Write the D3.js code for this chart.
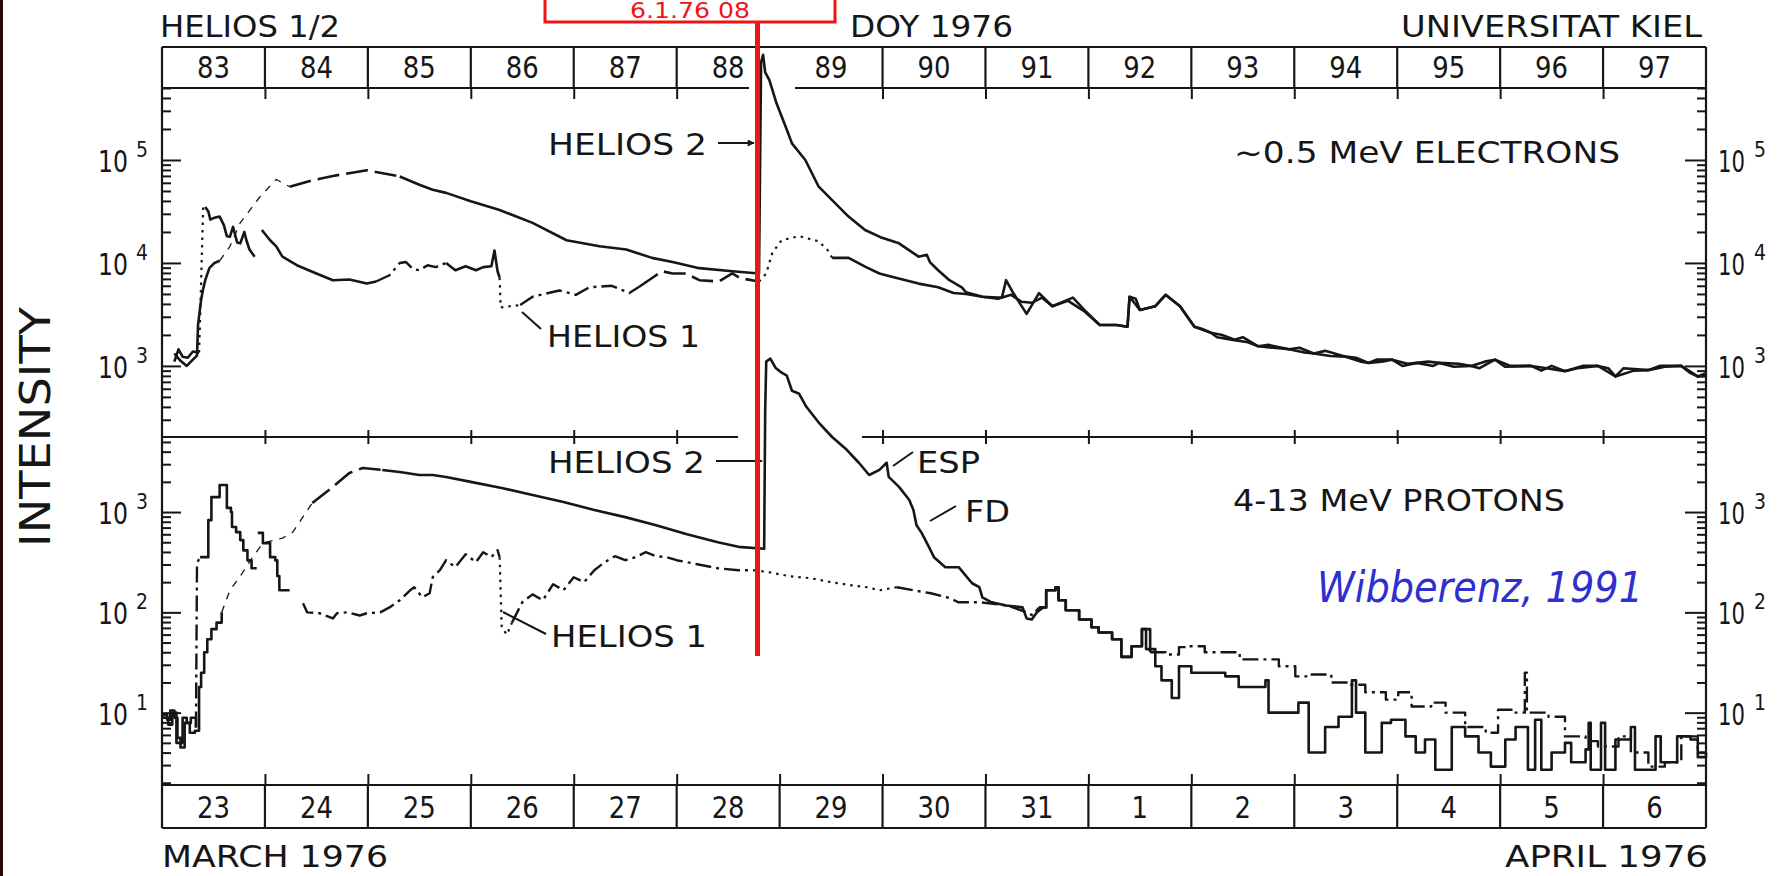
<!DOCTYPE html>
<html>
<head>
<meta charset="utf-8">
<script src="https://cdnjs.cloudflare.com/ajax/libs/d3/7.8.5/d3.min.js"></script>
<style>
  html, body { margin: 0; padding: 0; background: #fff; }
  svg { display: block; }
  text { font-family: "DejaVu Sans", "Liberation Sans", sans-serif; fill: #161616; }
</style>
</head>
<body>
<div id="container"></div>
<script>
"use strict";

const width = 1788;
const height = 876;

// day of year (top box) and calendar dates (bottom box)
const dayNumbers = [83, 84, 85, 86, 87, 88, 89, 90, 91, 92, 93, 94, 95, 96, 97];
const dateLabels = ["23", "24", "25", "26", "27", "28", "29", "30", "31", "1", "2", "3", "4", "5", "6"];
const electronDecades = [1e3, 1e4, 1e5];
const protonDecades = [1e1, 1e2, 1e3];
const electronExp = ["3", "4", "5"];
const protonExp = ["1", "2", "3"];

// ~0.5 MeV electrons, [DOY, intensity]
const electronsH1 = [
  [83.12, 1100], [83.16, 1450], [83.20, 1230], [83.25, 1200], [83.30, 1380], [83.36, 1350],
  [83.37, 2800], [83.40, 35000], [83.42, 35000], [83.45, 31600], [83.47, 26300], [83.51, 27500],
  [83.56, 28200], [83.60, 23400], [83.63, 18200], [83.66, 18000], [83.69, 22400], [83.73, 15800],
  [83.76, 15500], [83.80, 20000], [83.82, 16600], [83.85, 13500], [83.90, 11500],
  [83.97, 20900], [84.05, 16600], [84.11, 14500], [84.17, 11500], [84.31, 9500], [84.50, 7900],
  [84.66, 6800], [84.82, 6900], [84.99, 6300], [85.08, 6600], [85.21, 7600], [85.31, 10000],
  [85.37, 10200], [85.44, 8700], [85.50, 8500], [85.58, 9500], [85.66, 9100], [85.76, 10000],
  [85.85, 8500], [85.95, 9300], [86.05, 8500], [86.12, 9100], [86.20, 9300], [86.23, 13200],
  [86.26, 8300], [86.28, 7200], [86.29, 3700], [86.48, 3900], [86.60, 4700], [86.86, 5400],
  [87.02, 4900], [87.15, 5800], [87.37, 6000], [87.54, 5100], [87.64, 5900], [87.80, 7600],
  [87.86, 8300], [87.96, 7900], [88.09, 7900], [88.22, 6800], [88.41, 6600], [88.54, 7900],
  [88.62, 7100], [88.80, 6600], [88.87, 7900], [88.93, 12600], [89.02, 16600], [89.19, 18200],
  [89.38, 16200], [89.48, 12900], [89.51, 11200], [89.67, 11200], [89.84, 9100], [89.97, 7900],
  [90.08, 7400], [90.35, 6300], [90.54, 5800], [90.69, 5100], [90.81, 5000], [90.97, 4700],
  [91.12, 4500], [91.25, 4900], [91.35, 4200], [91.45, 4100], [91.55, 4600], [91.65, 3800],
  [91.80, 4300], [91.90, 3700], [91.96, 3400], [92.11, 2500], [92.27, 2500], [92.38, 2400],
  [92.40, 4700], [92.46, 4500], [92.50, 3500], [92.65, 3800], [92.75, 4900], [92.89, 3800],
  [93.03, 2400], [93.10, 2300], [93.19, 2100], [93.30, 2000], [93.42, 1800], [93.50, 1900],
  [93.65, 1550], [93.75, 1600], [93.95, 1450], [94.05, 1500], [94.19, 1320], [94.30, 1400],
  [94.50, 1230], [94.60, 1200], [94.72, 1070], [94.80, 1150], [94.95, 1150], [95.05, 1000],
  [95.19, 1070], [95.30, 1100], [95.41, 1070], [95.55, 980], [95.72, 1000], [95.85, 1100],
  [95.95, 1150], [96.05, 980], [96.30, 1000], [96.45, 950], [96.63, 890], [96.80, 1000],
  [96.95, 1000], [97.05, 950], [97.12, 790], [97.20, 950], [97.44, 910], [97.60, 980],
  [97.76, 1000], [97.85, 850], [97.92, 790], [98.00, 850]
];

const electronsH2 = [
  [83.12, 1320], [83.18, 1120], [83.24, 1000], [83.30, 1150], [83.34, 1260], [83.35, 2500],
  [83.38, 4400], [83.40, 5600], [83.42, 6800], [83.46, 8900], [83.51, 10000], [83.56, 10500],
  [83.66, 14500], [83.76, 24500], [83.95, 43700], [84.11, 64600], [84.24, 55000], [84.45, 63100],
  [84.66, 70000], [84.99, 79400], [85.31, 69200], [85.50, 57500], [85.63, 51300], [85.76, 47900],
  [86.00, 39800], [86.28, 32700], [86.60, 24500], [86.93, 16600], [87.25, 14500], [87.51, 13500],
  [87.76, 11200], [87.96, 10200], [88.22, 8900], [88.54, 8300], [88.80, 7900],
  [88.82, 890000], [88.84, 1050000], [88.86, 710000], [88.90, 600000], [88.97, 355000],
  [89.06, 209000], [89.12, 145000], [89.25, 100000], [89.38, 55000], [89.51, 40700],
  [89.67, 28200], [89.83, 20900], [89.98, 17800], [90.16, 15500], [90.35, 11500], [90.43, 12000],
  [90.46, 10200], [90.54, 8500], [90.65, 6800], [90.77, 5800], [90.81, 5200], [90.97, 4700],
  [91.12, 4600], [91.16, 4600], [91.20, 6800], [91.27, 5100], [91.40, 3200], [91.52, 5100],
  [91.65, 3800], [91.85, 4600], [91.96, 3500], [92.11, 2500], [92.27, 2500], [92.38, 2400],
  [92.40, 4700], [92.50, 3500], [92.65, 3800], [92.75, 4900], [92.89, 3800], [93.03, 2400],
  [93.19, 2100], [93.25, 1900], [93.42, 1780], [93.55, 1700], [93.65, 1550], [93.80, 1500],
  [93.95, 1450], [94.10, 1350], [94.19, 1320], [94.35, 1250], [94.50, 1230], [94.65, 1100],
  [94.72, 1070], [94.85, 1100], [94.95, 1150], [95.10, 1050], [95.19, 1070], [95.35, 1000],
  [95.41, 1070], [95.60, 1050], [95.72, 1000], [95.80, 950], [95.95, 1150], [96.10, 1000],
  [96.30, 1000], [96.40, 900], [96.50, 1000], [96.63, 890], [96.75, 950], [96.95, 1000],
  [97.12, 790], [97.30, 900], [97.44, 910], [97.55, 1000], [97.76, 1000], [97.92, 790], [98.00, 800]
];

// 4-13 MeV protons, [DOY, intensity]
const protonsH1 = [
  [83.00, 9.5], [83.05, 8.5], [83.08, 10.5], [83.12, 8.9], [83.15, 5.6], [83.18, 5.0], [83.20, 8.9],
  [83.24, 7.9], [83.28, 8.9], [83.33, 7.1], [83.34, 310], [83.37, 355], [83.43, 355], [83.45, 830],
  [83.48, 1410], [83.52, 1410], [83.56, 1860], [83.60, 1860], [83.63, 1100], [83.67, 1000],
  [83.68, 710], [83.72, 630], [83.76, 525], [83.79, 415], [83.83, 330], [83.87, 275], [83.92, 275],
  [83.93, 620], [83.98, 490], [84.05, 355], [84.10, 330], [84.12, 230], [84.14, 166], [84.24, 166],
  [84.37, 123], [84.41, 100], [84.53, 98], [84.66, 87], [84.70, 98], [84.80, 100], [84.92, 93],
  [84.99, 98], [85.12, 100], [85.21, 112], [85.31, 132], [85.41, 166], [85.45, 178], [85.53, 141],
  [85.60, 155], [85.63, 224], [85.70, 263], [85.76, 331], [85.85, 282], [85.95, 380], [86.05, 316],
  [86.12, 398], [86.20, 355], [86.26, 417], [86.28, 355], [86.30, 71], [86.35, 60], [86.40, 79],
  [86.50, 126], [86.60, 151], [86.70, 132], [86.80, 191], [86.90, 166], [87.00, 224], [87.10, 200],
  [87.20, 263], [87.30, 316], [87.40, 363], [87.50, 331], [87.60, 355], [87.70, 398], [87.80, 363],
  [87.90, 355], [88.00, 331], [88.20, 302], [88.40, 275], [88.60, 263], [88.75, 263], [88.90, 251],
  [89.10, 229], [89.30, 219], [89.50, 200], [89.70, 186], [89.85, 178], [89.97, 166], [90.14, 178],
  [90.30, 166], [90.47, 155], [90.63, 141], [90.74, 126], [90.95, 126], [91.21, 117], [91.40, 100],
  [91.46, 93], [91.52, 112], [91.59, 166], [91.68, 178], [91.71, 132], [91.78, 105], [91.91, 85],
  [92.03, 71], [92.10, 63], [92.23, 54], [92.32, 36], [92.42, 46], [92.52, 68], [92.60, 40],
  [92.75, 38], [92.88, 45], [92.97, 46], [93.13, 40], [93.33, 40], [93.47, 34], [93.63, 34],
  [93.85, 29], [94.01, 23], [94.17, 24], [94.36, 20], [94.53, 19], [94.69, 16], [94.89, 13.5],
  [95.01, 16], [95.14, 11.5], [95.33, 12.6], [95.47, 10], [95.66, 7.2], [95.86, 6.3], [95.98, 10.7],
  [96.11, 10], [96.22, 10], [96.24, 25], [96.26, 10], [96.30, 10], [96.47, 9.1], [96.63, 5.8],
  [96.83, 5.2], [96.95, 4.6], [97.15, 5.8], [97.27, 4.0], [97.44, 2.9], [97.60, 3.2], [97.76, 5.8],
  [97.92, 4.0], [98.00, 4.0]
];

const protonsH2 = [
  [83.00, 8.9], [83.06, 7.6], [83.10, 10], [83.14, 5.0], [83.18, 4.5], [83.22, 7.9], [83.27, 6.3],
  [83.32, 6.6], [83.36, 18], [83.38, 25], [83.41, 40], [83.44, 54], [83.48, 68], [83.53, 79],
  [83.58, 100], [83.66, 166], [83.76, 229], [83.88, 355], [83.98, 490], [84.17, 550], [84.27, 630],
  [84.46, 1230], [84.66, 1780], [84.82, 2450], [84.95, 2750], [85.14, 2630], [85.31, 2510],
  [85.50, 2340], [85.63, 2340], [85.76, 2240], [86.00, 2000], [86.30, 1740], [86.60, 1480],
  [86.90, 1260], [87.20, 1050], [87.50, 890], [87.80, 740], [88.10, 600], [88.40, 500], [88.60, 450],
  [88.85, 430], [88.86, 10200], [88.87, 31600], [88.91, 33900], [88.96, 27500], [89.02, 24500],
  [89.07, 22900], [89.12, 16200], [89.19, 15100], [89.26, 11200], [89.38, 7800], [89.51, 5600],
  [89.65, 4200], [89.77, 3100], [89.87, 2340], [89.97, 2630], [90.04, 3100], [90.06, 2240],
  [90.16, 1780], [90.26, 1320], [90.30, 1050], [90.33, 740], [90.38, 620], [90.45, 450], [90.50, 355],
  [90.61, 282], [90.74, 282], [90.79, 245], [90.87, 195], [90.94, 178], [90.97, 141], [91.06, 126],
  [91.20, 117], [91.36, 112], [91.40, 87], [91.45, 85], [91.50, 100], [91.56, 112], [91.59, 166],
  [91.68, 178], [91.71, 132], [91.78, 105], [91.91, 85], [92.03, 71], [92.10, 63], [92.23, 54],
  [92.32, 36], [92.42, 46], [92.52, 68], [92.56, 43], [92.65, 29], [92.71, 21], [92.81, 14],
  [92.88, 29], [93.00, 25], [93.10, 25], [93.20, 25], [93.33, 23], [93.46, 18], [93.62, 18],
  [93.72, 21], [93.75, 10], [93.97, 10], [94.04, 12.6], [94.14, 4.0], [94.24, 4.0], [94.30, 7.2],
  [94.43, 9.1], [94.56, 21], [94.60, 10], [94.69, 4.0], [94.82, 4.0], [94.85, 7.9], [94.94, 8.5],
  [95.08, 5.8], [95.18, 4.0], [95.27, 5.4], [95.37, 2.7], [95.47, 2.7], [95.53, 7.2], [95.66, 5.8],
  [95.79, 4.0], [95.91, 2.9], [96.05, 5.4], [96.15, 7.2], [96.27, 2.7], [96.34, 8.5], [96.40, 2.7],
  [96.50, 4.0], [96.63, 5.0], [96.69, 3.2], [96.83, 4.3], [96.86, 7.9], [96.88, 2.7], [96.98, 7.9],
  [97.02, 2.7], [97.12, 5.4], [97.27, 7.2], [97.31, 2.7], [97.44, 2.7], [97.51, 5.8], [97.56, 3.2],
  [97.72, 5.8], [97.85, 5.4], [97.92, 3.6], [98.00, 4.0]
];

// line style of each stretch of the curves: [from DOY, to DOY, style, curve]
const lineStyles = {
  solid:    { w: 2.6, dash: null },
  thin:     { w: 1.3, dash: "7 7" },
  longdash: { w: 2.6, dash: "22 7" },
  dashdot:  { w: 2.4, dash: "16 5 3 5" },
  dotted:   { w: 2.2, dash: "2.5 5" }
};
const electronsH1Zones = [
  [83.0, 83.36, "solid"], [83.36, 83.42, "dotted"], [83.42, 83.90, "solid"], [83.97, 85.08, "solid"],
  [85.08, 85.76, "dashdot"], [85.76, 86.28, "solid"], [86.28, 86.48, "dotted"], [86.48, 87.64, "dashdot"],
  [87.64, 88.80, "longdash"], [88.80, 89.51, "dotted"], [89.51, 98, "solid"]
];
const electronsH2Zones = [
  [83.0, 83.56, "solid"], [83.56, 84.24, "thin"], [84.24, 85.31, "longdash"], [85.31, 98, "solid"]
];
const protonsH1Zones = [
  [83.0, 83.33, "solid", "step"], [83.33, 83.37, "dashdot"], [83.37, 83.92, "solid", "step"],
  [83.93, 84.24, "solid", "step"], [84.37, 86.28, "dashdot"], [86.28, 86.40, "dotted"],
  [86.40, 88.75, "dashdot"], [88.75, 90.14, "dotted"], [90.14, 91.52, "dashdot"],
  [91.52, 92.60, "solid", "step"], [92.60, 98, "dashdot", "step"]
];
const protonsH2Zones = [
  [83.0, 83.58, "solid", "step"], [83.58, 84.46, "thin"], [84.46, 85.14, "longdash"],
  [85.14, 91.56, "solid"], [91.56, 98, "solid", "step"]
];

// geometry
const left = 162, right = 1706;
const boxTop = 47, panelTop = 88, panelMid = 437, panelBottom = 785, boxBottom = 828;

const x = d3.scaleLinear().domain([83, 98]).range([left, right]);
const yE = d3.scaleLog().domain([204, 5.0e5]).range([panelMid, panelTop]);
const yP = d3.scaleLog().domain([1.9, 5600]).range([panelBottom, panelMid]);

const ink = "#161616";

const svg = d3.select("#container").append("svg")
  .attr("width", width)
  .attr("height", height);

svg.append("rect").attr("width", width).attr("height", height).attr("fill", "#fff");
svg.append("rect").attr("x", 0).attr("y", 0).attr("width", 3).attr("height", height).attr("fill", "#2a0808");

const defs = svg.append("defs");
defs.append("marker")
  .attr("id", "arrow")
  .attr("viewBox", "0 0 10 10")
  .attr("refX", 9).attr("refY", 5)
  .attr("markerWidth", 9).attr("markerHeight", 7)
  .attr("markerUnits", "userSpaceOnUse")
  .attr("orient", "auto")
  .append("path").attr("d", "M0,0 L10,5 L0,10 z").attr("fill", ink);

// frame lines
const frame = svg.append("g").attr("stroke", ink).attr("stroke-width", 2.2).attr("fill", "none");
function hline(y, x1, x2) {
  frame.append("line").attr("x1", x1).attr("x2", x2).attr("y1", y).attr("y2", y);
}
function vline(xp, y1, y2) {
  frame.append("line").attr("x1", xp).attr("x2", xp).attr("y1", y1).attr("y2", y2);
}
hline(boxTop, left, right);
hline(panelTop, left, 749);
hline(panelTop, 795, right);
hline(panelMid, left, 738);
hline(panelMid, 862, right);
hline(panelBottom, left, right);
hline(boxBottom, left, right);
vline(left, boxTop, boxBottom);
vline(right, boxTop, boxBottom);

const boundaries = dayNumbers.slice(1);
const gappedBoundaries = boundaries.filter(d => d !== 89);
gappedBoundaries.forEach(d => vline(x(d), boxTop, panelTop));
boundaries.forEach(d => vline(x(d), panelBottom, boxBottom));

// day ticks along the horizontal lines
function dayAxis(axis, y, size, vals) {
  svg.append("g")
    .attr("transform", `translate(0,${y})`)
    .call(axis(x).tickValues(vals).tickSize(size).tickFormat(""))
    .call(g => g.select(".domain").remove())
    .call(g => g.selectAll("line").attr("stroke", ink).attr("stroke-width", 2));
}
dayAxis(d3.axisBottom, panelTop, 11, gappedBoundaries);
dayAxis(d3.axisTop, panelMid, 7, gappedBoundaries);
dayAxis(d3.axisBottom, panelMid, 7, gappedBoundaries);
dayAxis(d3.axisTop, panelBottom, 11, boundaries);

// log axes on both sides, ticks pointing inward
function isDecade(v) {
  const l = Math.log10(v);
  return Math.abs(l - Math.round(l)) < 1e-6;
}
function logAxis(scale, decades, xp, axisFn, major, minor) {
  const minors = scale.ticks().filter(v => !isDecade(v));
  [[decades, major], [minors, minor]].forEach(([vals, size]) => {
    svg.append("g")
      .attr("transform", `translate(${xp},0)`)
      .call(axisFn(scale).tickValues(vals).tickSize(size).tickFormat(""))
      .call(g => g.select(".domain").remove())
      .call(g => g.selectAll("line").attr("stroke", ink).attr("stroke-width", 2));
  });
}
logAxis(yE, electronDecades, left, d3.axisRight, 19, 9);
logAxis(yP, protonDecades, left, d3.axisRight, 19, 9);
logAxis(yE, electronDecades, right, d3.axisLeft, 21, 9);
logAxis(yP, protonDecades, right, d3.axisLeft, 21, 9);

// text helper
function label(txt, xp, yp, len, opts = {}) {
  const t = svg.append("text")
    .attr("x", xp).attr("y", yp)
    .attr("font-size", opts.size || 31)
    .attr("text-anchor", opts.anchor || "start")
    .text(txt);
  if (len) t.attr("textLength", len).attr("lengthAdjust", "spacingAndGlyphs");
  if (opts.fill) t.style("fill", opts.fill);
  if (opts.italic) t.attr("font-style", "italic");
  return t;
}

// decade labels "10^n"
function decadeLabels(scale, decades, exps) {
  decades.forEach((v, i) => {
    const yy = scale(v);
    label("10", 98, yy + 12, 30, { size: 30 });
    label(exps[i], 136, yy - 3, 12, { size: 21 });
    label("10", 1718, yy + 12, 27, { size: 30 });
    label(exps[i], 1754, yy - 3, 12, { size: 21 });
  });
}
decadeLabels(yE, electronDecades, electronExp);
decadeLabels(yP, protonDecades, protonExp);

// day numbers in the boxes
dayNumbers.forEach((d, i) => {
  const len = String(d).length * 16.5;
  label(String(d), x(d + 0.5), 78, len, { size: 30, anchor: "middle" });
  const dl = dateLabels[i];
  label(dl, x(d + 0.5), 818, dl.length * 16.5, { size: 30, anchor: "middle" });
});

// headers and footers
label("HELIOS 1/2", 160, 37, 180);
label("DOY  1976", 850, 37, 163);
label("UNIVERSITAT KIEL", 1401, 37, 301);
label("MARCH  1976", 162, 867, 226);
label("APRIL  1976", 1505, 867, 203);
svg.append("text")
  .attr("transform", "translate(50,427) rotate(-90)")
  .attr("font-size", 43)
  .attr("text-anchor", "middle")
  .attr("textLength", 240)
  .attr("lengthAdjust", "spacingAndGlyphs")
  .text("INTENSITY");

// panel labels
label("~0.5 MeV  ELECTRONS", 1234, 163, 386);
label("4-13 MeV  PROTONS", 1233, 511, 332);
label("HELIOS 2", 548, 155, 159);
label("HELIOS 1", 547, 347, 153);
label("HELIOS 2", 548, 473, 157);
label("HELIOS 1", 551, 647, 156);
label("ESP", 917, 473, 63);
label("FD", 965, 522, 45);
label("Wibberenz, 1991", 1317, 602, 326, { size: 42, italic: true, fill: "#2f2fd0" });

// pointers
const ptr = svg.append("g").attr("stroke", ink).attr("stroke-width", 2);
ptr.append("line").attr("x1", 718).attr("y1", 143).attr("x2", 754).attr("y2", 143).attr("marker-end", "url(#arrow)");
ptr.append("line").attr("x1", 716).attr("y1", 461).attr("x2", 762).attr("y2", 461).attr("marker-end", "url(#arrow)");
ptr.append("line").attr("x1", 522).attr("y1", 312).attr("x2", 541).attr("y2", 329);
ptr.append("line").attr("x1", 503).attr("y1", 612).attr("x2", 546).attr("y2", 634);
ptr.append("line").attr("x1", 893).attr("y1", 466).attr("x2", 913).attr("y2", 452);
ptr.append("line").attr("x1", 930).attr("y1", 521).attr("x2", 956).attr("y2", 506);

// curves
function drawSeries(data, zones, y) {
  const g = svg.append("g").attr("fill", "none").attr("stroke", ink)
    .attr("stroke-linejoin", "round");
  zones.forEach(([a, b, style, curve]) => {
    const pts = data.filter(d => d[0] >= a - 1e-6 && d[0] <= b + 1e-6);
    if (pts.length < 2) return;
    const line = d3.line()
      .x(d => x(d[0]))
      .y(d => y(d[1]))
      .curve(curve === "step" ? d3.curveStepAfter : d3.curveLinear);
    const s = lineStyles[style];
    const p = g.append("path").attr("d", line(pts)).attr("stroke-width", s.w);
    if (s.dash) p.attr("stroke-dasharray", s.dash);
  });
}
drawSeries(electronsH2, electronsH2Zones, yE);
drawSeries(electronsH1, electronsH1Zones, yE);
drawSeries(protonsH2, protonsH2Zones, yP);
drawSeries(protonsH1, protonsH1Zones, yP);

// red marker with its caption
const red = "#f01414";
svg.append("rect")
  .attr("x", 545).attr("y", -10).attr("width", 290).attr("height", 32)
  .attr("fill", "#fff").attr("stroke", red).attr("stroke-width", 3);
label("6.1.76 08", 690, 18, 120, { size: 21, anchor: "middle", fill: red });
svg.append("line")
  .attr("x1", 757.5).attr("x2", 757.5).attr("y1", 22).attr("y2", 656)
  .attr("stroke", red).attr("stroke-width", 5);
</script>
</body>
</html>
